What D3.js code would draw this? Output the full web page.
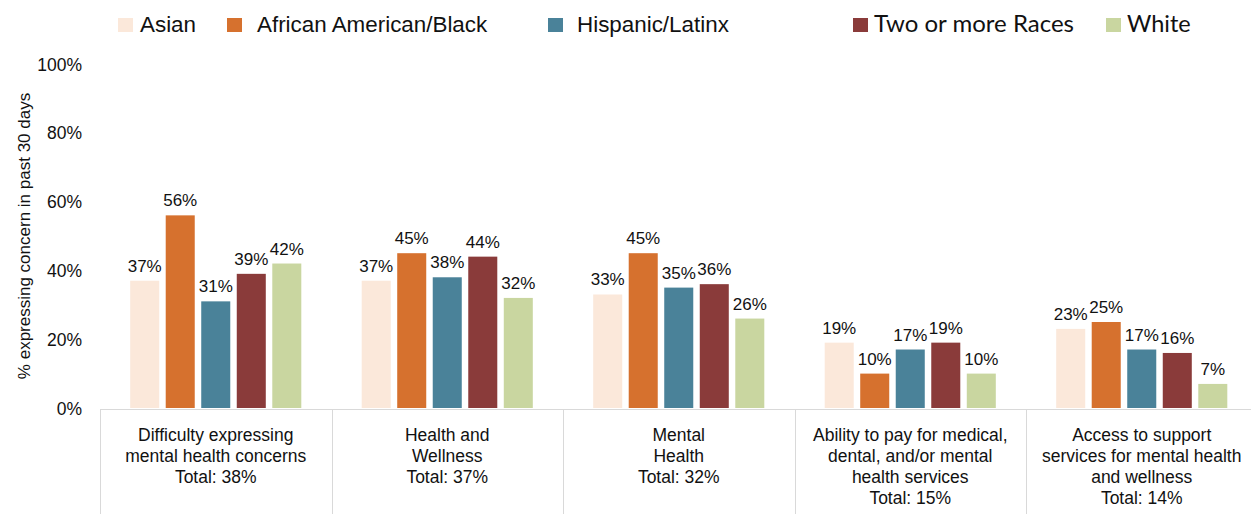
<!DOCTYPE html>
<html>
<head>
<meta charset="utf-8">
<script src="https://cdn.jsdelivr.net/npm/d3@7"></script>
<style>
  html, body { margin: 0; padding: 0; background: #fff; }
  svg { display: block; }
  text { font-family: "Liberation Sans", Arial, sans-serif; fill: #111; }
</style>
</head>
<body>
<svg id="chart" width="1251" height="514"></svg>
<script>
// ---- data ----
const categories = [
  "Difficulty expressing mental health concerns",
  "Health and Wellness",
  "Mental Health",
  "Ability to pay for medical, dental, and/or mental health services",
  "Access to support services for mental health and wellness"
];
const categoryLines = [
  ["Difficulty expressing", "mental health concerns", "Total: 38%"],
  ["Health and", "Wellness", "Total: 37%"],
  ["Mental", "Health", "Total: 32%"],
  ["Ability to pay for medical,", "dental, and/or mental", "health services", "Total: 15%"],
  ["Access to support", "services for mental health", "and wellness", "Total: 14%"]
];
const series = ["Asian", "African American/Black", "Hispanic/Latinx", "Two or more Races", "White"];
const asian    = [37, 37, 33, 19, 23];
const black    = [56, 45, 45, 10, 25];
const hispanic = [31, 38, 35, 17, 17];
const twoPlus  = [39, 44, 36, 19, 16];
const white    = [42, 32, 26, 10, 7];
const yTicks = [0, 20, 40, 60, 80, 100];
const yTitle = "% expressing concern in past 30 days";

// ---- styles / layout ----
const colors = ["#fbe8da", "#d6712e", "#4a8299", "#8a3b3a", "#c9d6a0"];
const legendSwatchX = [118, 227, 548, 853, 1106];
const legendTextX = [140, 257, 577, 874, 1127];
const legendFonts = ["Liberation Sans", "Liberation Sans", "Liberation Sans", "Lato", "Lato"];
const legendSizes = [22.4, 22.4, 22.4, 24, 23.5];

const valuesBySeries = [asian, black, hispanic, twoPlus, white];
const table = categories.map((c, i) => ({
  cat: c, idx: i,
  vals: series.map((s, j) => ({ s, j, v: valuesBySeries[j][i] }))
}));

const svg = d3.select("#chart");
const mLeft = 100, mTop = 64, mBottom = 408;
const bandW = 231.5;

const x0 = d3.scaleBand().domain(categories).range([mLeft, mLeft + bandW * categories.length]).padding(0);
const x1 = d3.scaleBand().domain(series).range([0, x0.bandwidth()]).paddingInner(0.183).paddingOuter(0.85);
const y = d3.scaleLinear().domain([0, 100]).range([mBottom, mTop]);

// y axis
const yAxis = d3.axisLeft(y).tickValues(yTicks).tickFormat(d => d + "%").tickSize(0).tickPadding(0);
const ya = svg.append("g").attr("transform", "translate(82,0)").call(yAxis);
ya.select(".domain").remove();
ya.selectAll("text").style("font-family", "Liberation Sans, Arial, sans-serif")
  .style("font-size", "17.5px").attr("fill", "#111").attr("dy", "0.35em");

svg.append("text")
  .attr("transform", `translate(30,236) rotate(-90)`)
  .attr("text-anchor", "middle")
  .style("font-size", "17px")
  .text(yTitle);

// bars
const groups = svg.append("g").selectAll("g").data(table).join("g")
  .attr("transform", d => `translate(${x0(d.cat)},0)`);

groups.selectAll("rect").data(d => d.vals).join("rect")
  .attr("x", d => x1(d.s))
  .attr("y", d => y(d.v))
  .attr("width", x1.bandwidth())
  .attr("height", d => y(0) - y(d.v))
  .attr("fill", d => colors[d.j]);

groups.selectAll("text.val").data(d => d.vals).join("text")
  .attr("class", "val")
  .attr("x", d => x1(d.s) + x1.bandwidth() / 2)
  .attr("y", d => y(d.v) - 9)
  .attr("text-anchor", "middle")
  .style("font-size", "17px")
  .text(d => d.v + "%");

// baseline and category separators
svg.append("line").attr("x1", mLeft).attr("x2", 1251).attr("y1", 409.5).attr("y2", 409.5)
  .attr("stroke", "#d9d9d9").attr("stroke-width", 1);
categories.forEach(c => {
  const xx = Math.round(x0(c)) + 0.5;
  svg.append("line").attr("x1", xx).attr("x2", xx).attr("y1", 409.5).attr("y2", 514)
    .attr("stroke", "#d9d9d9").attr("stroke-width", 1);
});

// category labels
const catG = svg.append("g");
categories.forEach((c, i) => {
  const cx = x0(c) + x0.bandwidth() / 2;
  const t = catG.append("text").attr("text-anchor", "middle").style("font-size", "17.5px");
  categoryLines[i].forEach((ln, k) => {
    t.append("tspan").attr("x", cx).attr("y", 441 + k * 21).text(ln);
  });
});

// legend
const lg = svg.append("g");
series.forEach((s, j) => {
  lg.append("rect").attr("x", legendSwatchX[j]).attr("y", 18).attr("width", 15).attr("height", 14)
    .attr("fill", colors[j]);
  lg.append("text").attr("x", legendTextX[j]).attr("y", 32)
    .style("font-family", legendFonts[j]).style("font-size", legendSizes[j] + "px")
    .text(s);
});
</script>
</body>
</html>
